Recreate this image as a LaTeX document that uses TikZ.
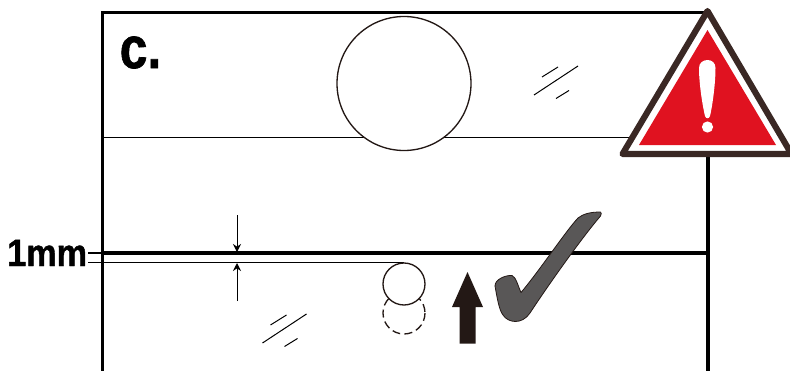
\documentclass[tikz,border=0pt]{standalone}
\usepackage{fontspec}
\usepackage{tikz}
\usetikzlibrary{arrows.meta}
\newfontfamily\labelfont[FakeBold=1.2]{Liberation Sans Bold}
\definecolor{InkBrown}{RGB}{35,24,21}
\definecolor{WarnBrown}{RGB}{58,40,36}
\definecolor{WarnRed}{RGB}{224,18,32}
\definecolor{TickGray}{RGB}{89,87,87}
\tikzset{
  frameline/.style ={draw=black, line width=2.6pt},
  thinline/.style  ={draw=black, line width=1.1pt},
  hatchline/.style ={draw=black, line width=.75pt},
  ballline/.style  ={draw=InkBrown, line width=1pt, fill=white},
  dimarr/.style    ={-{Stealth[length=6pt,width=6pt]}, draw=black, line width=.75pt},
  bigtext/.style   ={font=\labelfont, text=black, inner sep=0pt},
}
\begin{document}
\begin{tikzpicture}[x=.75pt,y=-.75pt]
  \useasboundingbox (0,0) rectangle (790,371);

  % frame and levels
  \draw[frameline,line join=miter] (102.5,371) -- (102.5,12.5) -- (708,12.5);
  \draw[frameline] (708,150) -- (708,371);
  \draw[frameline] (102,253) -- (708,253);
  \draw[thinline] (102,137.5) -- (632,137.5);
  \draw[thinline] (88,262.5) -- (404,262.5);
  \draw[thinline] (88,253) -- (102,253);

  % balls
  \draw[ballline] (404,83.5) circle (67);
  \draw[ballline,dashed,dash pattern=on 6pt off 3.2pt] (404,313) circle (21);
  \draw[ballline] (404,284) circle (21);

  % dimension
  \coordinate (dimtop) at (237,215);
  \coordinate (dimupper) at (237,252);
  \coordinate (dimbot) at (237,301);
  \coordinate (dimlower) at (237,263);
  \draw[dimarr] (dimtop) -- (dimupper);
  \draw[dimarr] (dimbot) -- (dimlower);

  % glass marks
  \foreach \dx/\dy in {0/0,-271.5/248}{
    \draw[hatchline,shift={(\dx,\dy)}] (534,95) -- (578,66);
    \draw[hatchline,shift={(\dx,\dy)}] (542,77) -- (558,67);
    \draw[hatchline,shift={(\dx,\dy)}] (556,98.5) -- (569,90.5);
  }

  % up arrow
  \fill[InkBrown] (467.5,272) -- (483,307) -- (475.5,307) -- (475.5,343.5)
    -- (459.5,343.5) -- (459.5,307) -- (452,307) -- cycle;

  % tick
  \draw[fill=TickGray,draw=InkBrown,line width=.6pt,line join=round]
    (600.5,212) .. controls (590,212) and (583,214) .. (578,218)
    .. controls (565,232) and (540,270) .. (521,292.5)
    .. controls (518,286) and (516,277) .. (512,275.5)
    .. controls (506,275) and (495,279) .. (495,286)
    .. controls (497,297) and (499,310) .. (503,315)
    .. controls (508,323) and (522,325) .. (530,313)
    .. controls (545,290) and (580,240) .. (600.5,216)
    .. controls (601.5,214) and (601.5,213) .. (600.5,212) -- cycle;

  % warning sign
  \draw[draw=WarnBrown,fill=white,line width=4.6pt,line join=round]
    (707.5,11) -- (791.5,154) -- (622.5,154) -- cycle;
  \fill[WarnRed] (707.5,30) -- (776,145) -- (639,145) -- cycle;
  \fill[white] (707.5,60) .. controls (712,60) and (715.5,63) .. (715.5,68)
    .. controls (715.5,85) and (712,108) .. (710,116)
    .. controls (709,119) and (706,119) .. (705,116)
    .. controls (703,108) and (699,85) .. (699,68)
    .. controls (699,63) and (703,60) .. (707.5,60) -- cycle;
  \fill[white] (707.5,127) circle (5.6);

  % labels
  \node[bigtext,font=\labelfont\fontsize{28.5pt}{28.5pt}\selectfont,xscale=.9,anchor=base west] (gap) at (7,266) {1mm};
  \node[bigtext,font=\labelfont\fontsize{44pt}{44pt}\selectfont,xscale=.85,anchor=base west] (panel) at (119.5,68) {c.};
\end{tikzpicture}
\end{document}
